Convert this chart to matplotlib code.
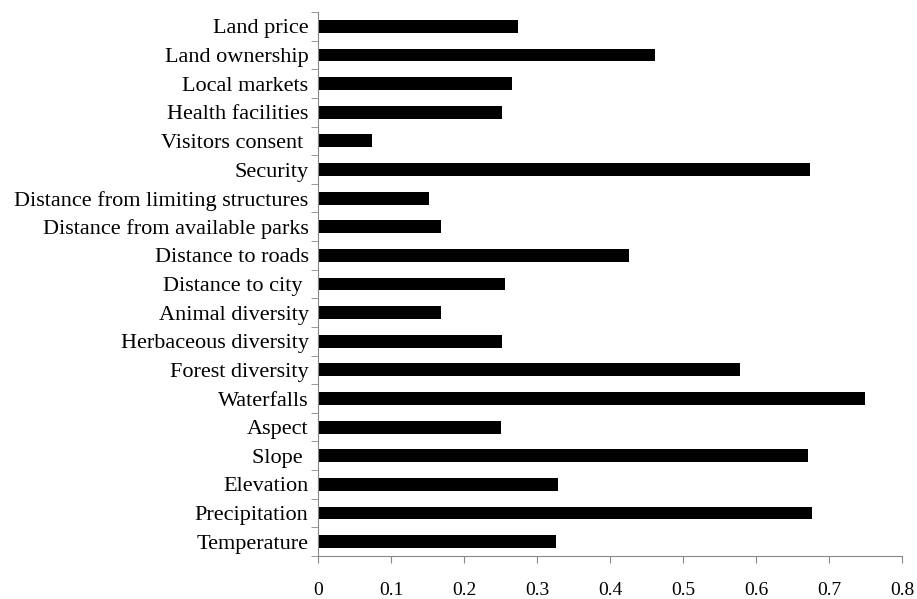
import numpy as np
import matplotlib
matplotlib.use("Agg")
from matplotlib import pyplot as plt

# bottom to top, as drawn
factors = [
    "Temperature", "Precipitation", "Elevation", "Slope ", "Aspect",
    "Waterfalls", "Forest diversity", "Herbaceous diversity",
    "Animal diversity", "Distance to city ", "Distance to roads",
    "Distance from available parks", "Distance from limiting structures",
    "Security", "Visitors consent ", "Health facilities", "Local markets",
    "Land ownership", "Land price",
]
weights = [
    0.325, 0.676, 0.329, 0.671, 0.250,
    0.749, 0.577, 0.252,
    0.168, 0.256, 0.425,
    0.168, 0.152,
    0.673, 0.073, 0.252, 0.266,
    0.461, 0.273,
]
xticks = [0, 0.1, 0.2, 0.3, 0.4, 0.5, 0.6, 0.7, 0.8]

plt.rcParams["font.family"] = ["Liberation Serif", "DejaVu Serif"]

fig = plt.figure(figsize=(9.17, 5.99), dpi=100)
ax = fig.add_axes([0.3471, 0.0718, 0.6369, 0.908])

y = np.arange(len(factors))
ax.barh(y, weights, height=0.45, color="black")

ax.set_xlim(0, 0.8)
ax.set_ylim(-0.5, len(factors) - 0.5)

ax.set_xticks(xticks)
ax.set_xticklabels([f"{t:g}" for t in xticks], fontsize=14)
ax.set_yticks(y)
ax.set_yticklabels(factors, fontsize=16)
ax.tick_params(axis="y", length=0, pad=7)
ax.set_yticks(np.arange(len(factors) + 1) - 0.5, minor=True)
ax.tick_params(axis="y", which="minor", length=5, color="#888888", direction="out")
ax.tick_params(axis="x", length=5, color="#888888", direction="out", pad=14)

for side in ("top", "right"):
    ax.spines[side].set_visible(False)
for side in ("left", "bottom"):
    ax.spines[side].set_color("#888888")

fig.savefig("out.png", dpi=100)
